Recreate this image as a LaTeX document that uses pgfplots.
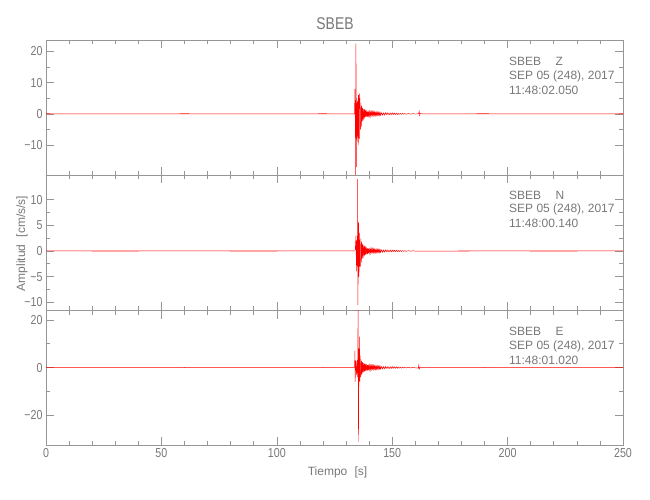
\documentclass[border=0pt]{standalone}
\usepackage{pgfplots}
\usepackage{pgfplotstable}
\pgfplotsset{compat=1.18}
\usepackage{fontspec}
\setmainfont{Liberation Sans}
\newfontfamily\narrow[FakeStretch=0.82]{Liberation Sans}
\definecolor{axgray}{RGB}{150,150,150}
\definecolor{txgray}{RGB}{120,120,120}
\pgfplotstableread{
t z n e
136.2 -5.0 -3.0 -4.0
136.4 3.5 2.4 3.5
136.6 -4.0 -2.2 -3.2
136.8 2.6 1.8 2.8
137.0 -2.5 -1.5 -2.5
137.2 1.8 1.3 2.2
137.4 -2.2 -1.4 -2.0
137.6 1.5 1.1 2.0
137.8 -1.7 -1.0 -1.8
138.0 1.5 1.0 1.7
138.2 -1.1 -0.8 -1.5
138.4 1.3 0.9 1.6
138.6 -0.9 -0.7 -1.3
138.8 1.1 0.7 1.4
139.0 -1.0 -0.6 -1.3
139.2 0.7 0.5 1.0
139.4 -0.9 -0.6 -1.2
139.6 0.8 0.5 1.1
139.8 -0.6 -0.4 -0.9
140.0 0.8 0.5 1.0
140.2 -0.7 -0.4 -0.9
140.4 0.5 0.35 0.7
140.6 -0.7 -0.4 -0.9
140.8 0.6 0.35 0.8
141.0 -0.5 -0.3 -0.7
141.2 0.65 0.4 0.85
141.4 -0.45 -0.28 -0.6
141.6 0.6 0.36 0.8
141.8 -0.5 -0.3 -0.65
142.0 0.6 0.36 0.8
142.2 -0.4 -0.25 -0.55
142.4 0.55 0.33 0.7
142.6 -0.5 -0.3 -0.65
142.8 0.4 0.25 0.55
143.0 -0.5 -0.3 -0.65
143.2 0.45 0.27 0.6
143.4 -0.35 -0.22 -0.5
143.6 0.5 0.3 0.65
143.8 -0.4 -0.24 -0.52
144.0 0.45 0.27 0.6
144.2 -0.35 -0.21 -0.45
144.4 0.4 0.24 0.52
144.6 -0.45 -0.27 -0.6
144.8 0.3 0.18 0.4
145.0 -0.45 -0.27 -0.6
145.4 0.35 0.21 0.45
145.8 -0.4 -0.24 -0.52
146.2 0.3 0.18 0.4
146.6 -0.38 -0.23 -0.5
147.0 0.35 0.21 0.45
147.4 -0.28 -0.17 -0.36
147.8 0.35 0.21 0.45
148.2 -0.3 -0.18 -0.4
148.6 0.25 0.15 0.33
149.0 -0.32 -0.19 -0.42
149.4 0.3 0.18 0.4
149.8 -0.25 -0.15 -0.33
150.2 0.3 0.18 0.4
150.6 -0.22 -0.13 -0.3
151.0 0.25 0.15 0.33
151.4 -0.2 -0.12 -0.26
151.8 0.22 0.13 0.3
152.2 -0.2 -0.12 -0.26
152.6 0.18 0.11 0.24
153.0 -0.2 -0.12 -0.26
153.5 0.15 0.09 0.2
154.0 -0.17 -0.1 -0.22
154.5 0.14 0.08 0.18
155.0 -0.15 -0.09 -0.2
155.5 0.12 0.07 0.16
156.0 -0.13 -0.08 -0.17
157.0 0.1 0.06 0.13
158.0 -0.1 -0.06 -0.13
159.0 0.08 0.05 0.1
160.0 -0.08 -0.05 -0.1
}\coda
\pgfplotsset{
  seis/.style={
    width=577pt, height=134.5pt, scale only axis,
    xmin=0, xmax=250, xtick={0,50,...,250}, minor x tick num=4,
    minor y tick num=1,
    tick align=inside,
    major tick length=8pt, minor tick length=4pt,
    axis line style={axgray, line width=0.6pt},
    every tick/.style={axgray, line width=0.6pt},
    tick label style={font=\narrow\fontsize{13}{15}\selectfont, text=txgray},
    /pgf/number format/assume math mode=true,
    xticklabels={},
    clip=true,
  },
  wave/.style={red, line width=0.45pt},
  noise/.style={red, line width=0.55pt},
}
\begin{document}
\begin{tikzpicture}[x=1pt,y=1pt]
\path[use as bounding box] (0,0) rectangle (650,500);
% ---------- Z ----------
\begin{axis}[seis, at={(46pt,325pt)}, anchor=south west,
  ymin=-19.6, ymax=23.5, ytick={-10,0,10,20}, yticklabels={−10,0,10,20}]
\addplot[noise] coordinates {(0,0.02)(30,-0.02)(60,0.02)(90,-0.02)(120,0.02)(133.5,0.0)};
\addplot[wave] coordinates {
(133.5,0.0)(133.7,0.3)(133.85,8.0)(133.95,-1.0)(134.05,0.5)
(134.15,-22.0)(134.3,22.5)(134.45,-17.0)(134.55,3.0)(134.65,-6.0)(134.75,5.0)
(134.85,-9.0)(135.0,4.0)(135.15,-7.0)(135.3,6.0)(135.4,-10.0)(135.55,5.0)(135.8,6.5)
(135.9,-8.0)(136.0,5.0)(136.2,-5.0)};
\addplot[wave] table[x=t,y=z] {\coda};
\addplot[wave] coordinates {(160.0,-0.08)(161.3,0.05)(161.5,0.2)(161.7,0.8)(161.9,-0.5)(162.1,0.1)(163,0)};
\addplot[noise] coordinates {(163,0)(190,0.02)(220,-0.02)(250,0.02)};
\end{axis}
% ---------- N ----------
\begin{axis}[seis, at={(46pt,190pt)}, anchor=south west,
  ymin=-11.5, ymax=14.7, ytick={-10,-5,0,5,10}, yticklabels={−10,−5,0,5,10}]
\addplot[noise] coordinates {(0,0.01)(30,-0.01)(60,0.01)(90,-0.01)(120,0.01)(134.0,0.0)};
\addplot[wave] coordinates {
(134.0,0.2)(134.3,3.0)(134.5,-4.0)(134.7,2.0)
(134.9,-3.0)(135.05,14.0)(135.15,-10.5)(135.3,4.0)(135.45,5.5)(135.6,-5.0)(135.8,3.5)
(136.0,-3.0)(136.2,-3.0)};
\addplot[wave] table[x=t,y=n] {\coda};
\addplot[noise] coordinates {(160,-0.05)(190,0.01)(220,-0.01)(250,0.01)};
\end{axis}
% ---------- E ----------
\begin{axis}[seis, at={(46pt,55pt)}, anchor=south west,
  ymin=-32.4, ymax=23.9, ytick={-20,0,20}, yticklabels={−20,0,20},
  xticklabels={0,50,100,150,200,250}]
\addplot[noise] coordinates {(0,0.03)(30,-0.03)(60,0.03)(90,-0.03)(120,0.03)(133.5,0.0)};
\addplot[wave] coordinates {
(133.5,0.0)(133.7,0.3)(133.85,7.0)(133.95,-6.0)(134.2,3.0)(134.5,-3.0)(134.8,3.0)
(135.0,-4.0)(135.25,26.0)(135.4,-31.0)(135.5,8.0)(135.6,-8.0)(135.8,13.0)(135.95,-6.0)
(136.1,5.0)(136.2,-4.0)};
\addplot[wave] table[x=t,y=e] {\coda};
\addplot[wave] coordinates {(160.0,-0.1)(161.3,-0.2)(161.5,0.9)(161.7,-0.6)(162,0.15)(163,0)};
\addplot[noise] coordinates {(163,0)(190,0.03)(220,-0.03)(250,0.03)};
\end{axis}
% ---------- texts ----------
\begin{scope}[every node/.style={text=txgray, inner sep=0pt, font=\fontsize{12}{14}\selectfont}]
\node at (335,476.5) {\narrow\fontsize{17}{20}\selectfont SBEB};
\node[anchor=west] at (509,438.3) {SBEB\hspace{1.2em}Z};
\node[anchor=west] at (509,424) {SEP 05 (248), 2017};
\node[anchor=west] at (509,409.7) {11:48:02.050};
\node[anchor=west] at (509,305) {SBEB\hspace{1.2em}N};
\node[anchor=west] at (509,290.7) {SEP 05 (248), 2017};
\node[anchor=west] at (509,276.4) {11:48:00.140};
\node[anchor=west] at (509,168.3) {SBEB\hspace{1.2em}E};
\node[anchor=west] at (509,154) {SEP 05 (248), 2017};
\node[anchor=west] at (509,139.7) {11:48:01.020};
\node at (337.5,28) {Tiempo\hspace{0.6em}[s]};
\node[rotate=90] at (22,256.5) {Amplitud\hspace{0.6em}[cm/s/s]};
\end{scope}
\end{tikzpicture}
\end{document}
